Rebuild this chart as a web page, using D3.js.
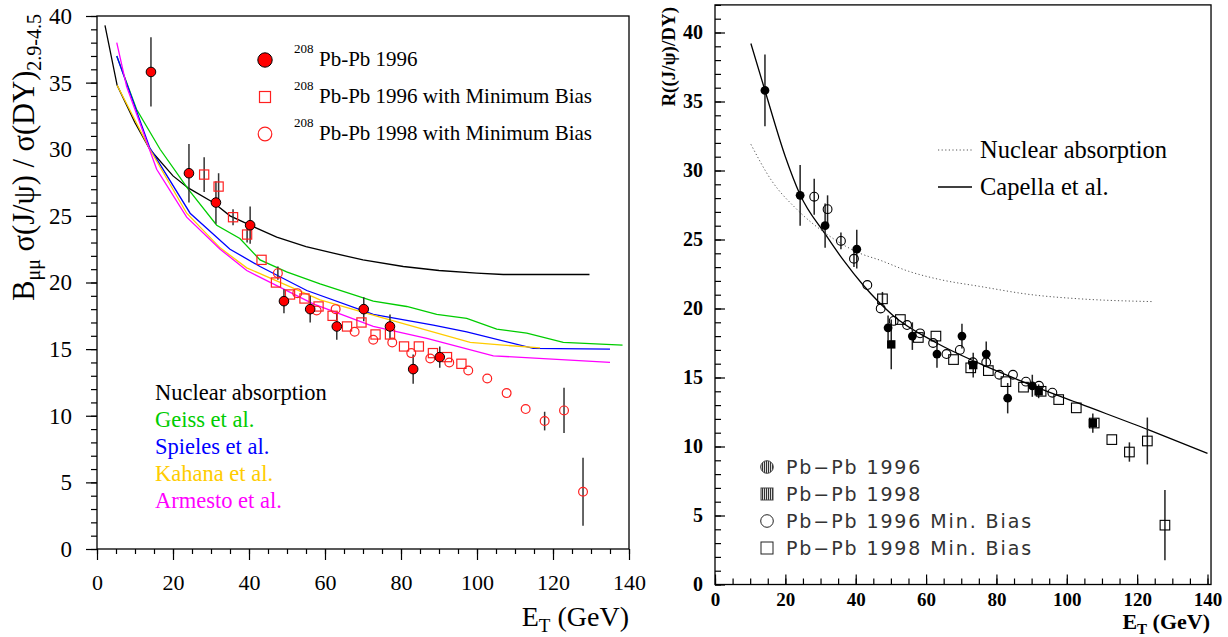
<!DOCTYPE html>
<html><head><meta charset="utf-8">
<script src="https://cdn.jsdelivr.net/npm/d3@7"></script>
<style>body{margin:0;background:#fff}svg{display:block}</style>
</head><body>
<svg id="c" width="1228" height="637"></svg>
<script>
// ---------------- DATA ----------------
// Pb-Pb 1996 (filled circles)
const pb96E   = [14.2, 24.2, 31.3, 40.3, 49.2, 56.1, 63.1, 70.2, 77.1, 83.2, 90.2];
const pb96V   = [35.8, 28.2, 26.0, 24.3, 18.6, 18.0, 16.7, 18.0, 16.7, 13.5, 14.4];
const pb96Err = [2.6, 2.2, 1.6, 1.4, 0.9, 1.0, 1.0, 0.9, 0.9, 1.1, 0.8];
// Pb-Pb 1998 (filled squares, right panel only)
const pb98E   = [50.1, 73.4, 92.0, 107.4];
const pb98V   = [17.4, 15.9, 14.0, 11.7];
const pb98Err = [1.8, 0.9, 0.5, 0.7];
// Pb-Pb 1996 minimum bias
const mb96E   = [28.2, 32.0, 35.8, 39.5, 43.3, 47.1, 50.8, 54.6, 58.3, 62.0, 65.8, 69.6, 73.3, 77.1, 80.8, 84.7, 88.4, 92.1, 95.9];
const mb96V   = [28.1, 27.2, 24.9, 23.6, 21.7, 20.0, 19.1, 18.8, 18.2, 17.5, 16.7, 17.0, 16.1, 16.1, 15.2, 15.2, 14.7, 14.4, 13.9];
const mb96Err = [1.3, 1.0, 0.6, 0.6, 0, 0, 0, 0, 0, 0, 0, 0, 0, 0, 0, 0, 0, 0, 0];
// Pb-Pb 1998 minimum bias
const mb98E   = [47.6, 52.7, 57.8, 62.8, 67.8, 72.7, 77.7, 82.7, 87.7, 92.7, 97.7, 102.7, 107.8, 112.8, 117.8, 122.9, 127.9];
const mb98V   = [20.7, 19.2, 17.9, 18.0, 16.3, 15.7, 15.5, 14.7, 14.3, 14.0, 13.4, 12.8, 11.7, 10.5, 9.6, 10.4, 4.3];
const mb98Err = [0.5, 0, 0, 0, 0, 0, 0, 0, 0, 0, 0, 0, 0, 0, 0.7, 1.7, 2.55];

// Left panel model curves
const absLE = [2.1, 5.3, 10, 13.9, 20, 24, 30.6, 35, 40.3, 47.3, 55, 62.2, 70, 80.6, 90, 99.9, 106.9, 129.6];
const absLV = [39.3, 34.8, 32.0, 30.0, 28.0, 27.1, 26.0, 25.0, 24.3, 23.4, 22.7, 22.2, 21.7, 21.2, 20.9, 20.7, 20.6, 20.6];
const geissE = [5.2, 10.4, 16.6, 24, 31.5, 37.6, 42.9, 49.9, 58.7, 72.7, 81.5, 89.4, 97.3, 105.2, 113.1, 122.7, 138.3];
const geissV = [37.0, 33.0, 30.0, 27.0, 24.3, 23.3, 21.7, 20.8, 19.9, 18.6, 18.2, 17.6, 17.3, 16.5, 16.2, 15.5, 15.3];
const spiE = [5.2, 13.9, 24.5, 35, 42.9, 55.2, 72.7, 88.5, 97.3, 114.8, 135];
const spiV = [37.0, 30.1, 25.2, 22.5, 21.2, 19.4, 17.6, 16.8, 16.3, 15.05, 15.0];
const kahE = [5.3, 13.9, 23.6, 32.4, 39.4, 58.7, 74.5, 98.2, 106.9, 116.6];
const kahV = [34.8, 30.0, 25.2, 22.6, 21.1, 18.7, 17.4, 15.5, 15.3, 15.1];
const armE = [5.2, 7.8, 15.7, 23.6, 32.4, 39.4, 56.9, 72.7, 86.8, 104.3, 135];
const armV = [38.0, 34.7, 28.5, 24.9, 22.5, 20.9, 18.4, 16.7, 15.8, 14.5, 14.0];

// Right panel curves
const absRE = [10.2, 16, 23.2, 31.7, 41.2, 46.9, 55, 63.9, 75.3, 90, 103.7, 124.4];
const absRV = [31.9, 29.3, 27.2, 25.4, 24.0, 23.5, 22.7, 22.1, 21.6, 21.0, 20.7, 20.5];
const capE = [10.2, 14.2, 20, 24.1, 31.3, 36.5, 42.1, 50.6, 63, 75.3, 90.4, 103.7, 123.3, 140];
const capV = [39.2, 35.8, 31.0, 28.3, 25.4, 23.5, 21.7, 19.5, 17.5, 16.0, 14.4, 13.1, 11.2, 9.5];

// Ticks
const xMajor = [0, 20, 40, 60, 80, 100, 120, 140];
const yMajor = [0, 5, 10, 15, 20, 25, 30, 35, 40];
const leftModelNames = ["Nuclear absorption", "Geiss et al.", "Spieles et al.", "Kahana et al.", "Armesto et al."];
const leftDataNames = ["Pb-Pb 1996", "Pb-Pb 1996 with Minimum Bias", "Pb-Pb 1998 with Minimum Bias"];
const rightModelNames = ["Nuclear absorption", "Capella et al."];
const rightDataNames = ["Pb\u2212Pb 1996", "Pb\u2212Pb 1998", "Pb\u2212Pb 1996 Min. Bias", "Pb\u2212Pb 1998 Min. Bias"];

// ---------------- DRAW ----------------
const svg = d3.select("#c");
const SERIF = "'Liberation Serif','Times New Roman',serif";
const SANS = "'DejaVu Sans','Liberation Sans',Arial,sans-serif";
const defs = svg.append("defs");
const pat = defs.append("pattern").attr("id","hatch").attr("patternUnits","userSpaceOnUse")
  .attr("width",2).attr("height",4);
pat.append("rect").attr("width",2).attr("height",4).attr("fill","#ddd");
pat.append("rect").attr("width",1).attr("height",4).attr("fill","#333");

const zip = (a,b) => a.map((v,i)=>[v,b[i]]);
const minor = (lo,hi,step) => d3.range(lo,hi+1e-9,step);

// ===== LEFT PANEL =====
const xL = d3.scaleLinear().domain([0,140]).range([97,629]);
const yL = d3.scaleLinear().domain([0,40]).range([549,16]);
const L = svg.append("g");

function styleAxis(g, size, weight){
  g.select(".domain").remove();
  g.selectAll("line").attr("stroke","#000").attr("stroke-width",1.2);
  g.selectAll("text").attr("font-family",SERIF).attr("font-size",size).attr("font-weight",weight).attr("fill","#000");
}
// minor ticks
L.append("g").attr("transform",`translate(0,${yL(0)})`)
  .call(d3.axisBottom(xL).tickValues(minor(0,140,5)).tickSize(5).tickFormat(""))
  .call(g=>styleAxis(g,22,"normal"));
L.append("g").attr("transform",`translate(${xL(0)},0)`)
  .call(d3.axisLeft(yL).tickValues(minor(0,40,1)).tickSize(6).tickFormat(""))
  .call(g=>styleAxis(g,22,"normal"));
L.append("g").attr("transform",`translate(0,${yL(0)})`)
  .call(d3.axisBottom(xL).tickValues(xMajor).tickSize(11).tickPadding(14).tickFormat(d3.format("d")))
  .call(g=>styleAxis(g,22,"normal"));
L.append("g").attr("transform",`translate(${xL(0)},0)`)
  .call(d3.axisLeft(yL).tickValues(yMajor).tickSize(11).tickPadding(14).tickFormat(d3.format("d")))
  .call(g=>styleAxis(g,23,"normal"));
L.append("rect").attr("x",xL(0)).attr("y",yL(40)).attr("width",xL(140)-xL(0)).attr("height",yL(0)-yL(40))
  .attr("fill","none").attr("stroke","#000").attr("stroke-width",1.3);

// model curves
const lineL = d3.line().x(d=>xL(d[0])).y(d=>yL(d[1]));
const leftModels = [
  [absLE, absLV, "#000000"],
  [geissE, geissV, "#00cc00"],
  [spiE, spiV, "#0000ff"],
  [kahE, kahV, "#ffcc00"],
  [armE, armV, "#ff00ff"]
];
leftModels.forEach(([e,v,c])=>{
  L.append("path").datum(zip(e,v)).attr("d",lineL).attr("fill","none").attr("stroke",c).attr("stroke-width",1.3);
});

function errBars(g, xs, ys, E, V, Er, color){
  g.selectAll(null).data(E.map((e,i)=>({e,v:V[i],er:Er[i]})).filter(d=>d.er>0)).enter().append("line")
    .attr("x1",d=>xs(d.e)).attr("x2",d=>xs(d.e)).attr("y1",d=>ys(d.v-d.er)).attr("y2",d=>ys(d.v+d.er))
    .attr("stroke",color).attr("stroke-width",1.5);
}
errBars(L,xL,yL,pb96E,pb96V,pb96Err,"#333");
errBars(L,xL,yL,mb96E,mb96V,mb96Err,"#333");
errBars(L,xL,yL,mb98E,mb98V,mb98Err,"#333");

// open squares (1996 MB)
L.selectAll(null).data(zip(mb96E,mb96V)).enter().append("rect")
  .attr("x",d=>xL(d[0])-4.6).attr("y",d=>yL(d[1])-4.6).attr("width",9.2).attr("height",9.2)
  .attr("fill","none").attr("stroke","#ff2020").attr("stroke-width",1.2);
// open circles (1998 MB)
L.selectAll(null).data(zip(mb98E,mb98V)).enter().append("circle")
  .attr("cx",d=>xL(d[0])).attr("cy",d=>yL(d[1])).attr("r",4.4)
  .attr("fill","none").attr("stroke","#ff2020").attr("stroke-width",1.2);
// filled circles 1996
L.selectAll(null).data(zip(pb96E,pb96V)).enter().append("circle")
  .attr("cx",d=>xL(d[0])).attr("cy",d=>yL(d[1])).attr("r",4.8)
  .attr("fill","#ff0000").attr("stroke","#000").attr("stroke-width",1);

// legend top
const legY = [60, 97, 134];
L.append("circle").attr("cx",265).attr("cy",legY[0]).attr("r",7.2).attr("fill","#ff0000").attr("stroke","#000").attr("stroke-width",1);
L.append("rect").attr("x",259.5).attr("y",legY[1]-5.5).attr("width",11).attr("height",11).attr("fill","none").attr("stroke","#ff2020").attr("stroke-width",1.2);
L.append("circle").attr("cx",265).attr("cy",legY[2]).attr("r",6.8).attr("fill","none").attr("stroke","#ff2020").attr("stroke-width",1.2);
leftDataNames.forEach((t,i)=>{
  L.append("text").attr("x",294).attr("y",legY[i]-7).attr("font-family",SERIF).attr("font-size",13).text("208");
  L.append("text").attr("x",319).attr("y",legY[i]+6).attr("font-family",SERIF).attr("font-size",21).text(t);
});
// legend bottom
const modelColors = ["#000000","#00cc00","#0000ff","#ffcc00","#ff00ff"];
leftModelNames.forEach((t,i)=>{
  L.append("text").attr("x",155).attr("y",400+i*27).attr("font-family",SERIF).attr("font-size",22.5)
    .attr("fill",modelColors[i]).text(t);
});
// titles
const ytl = L.append("text").attr("transform","translate(34,14) rotate(-90)").attr("text-anchor","end")
  .attr("font-family",SERIF).attr("font-size",30.5).attr("fill","#000");
ytl.append("tspan").text("B");
ytl.append("tspan").attr("font-size",20).attr("dy",6).text("\u03bc\u03bc");
ytl.append("tspan").attr("dy",-6).text(" \u03c3(J/\u03c8) / \u03c3(DY)");
ytl.append("tspan").attr("font-size",20).attr("dy",7).text("2.9-4.5");
const xtl = L.append("text").attr("x",629).attr("y",626).attr("text-anchor","end")
  .attr("font-family",SERIF).attr("font-size",28).attr("fill","#000");
xtl.append("tspan").text("E");
xtl.append("tspan").attr("font-size",19).attr("dy",6).text("T");
xtl.append("tspan").attr("dy",-6).text(" (GeV)");

// ===== RIGHT PANEL =====
const xR = d3.scaleLinear().domain([0,140]).range([715,1207.5]);
const yR = d3.scaleLinear().domain([0,42]).range([584.5,4.9]);
const R = svg.append("g");
R.append("g").attr("transform",`translate(0,${yR(0)})`)
  .call(d3.axisBottom(xR).tickValues(minor(0,140,5)).tickSize(-6).tickFormat(""))
  .call(g=>styleAxis(g,19,"bold"));
R.append("g").attr("transform",`translate(${xR(0)},0)`)
  .call(d3.axisLeft(yR).tickValues(minor(0,42,1)).tickSize(-6).tickFormat(""))
  .call(g=>styleAxis(g,19,"bold"));
const xAxR = R.append("g").attr("transform",`translate(0,${yR(0)})`)
  .call(d3.axisBottom(xR).tickValues(xMajor).tickSize(-10).tickPadding(8).tickFormat(d3.format("d")))
  .call(g=>styleAxis(g,19,"bold"));
xAxR.selectAll(".tick text").attr("y",8);
R.append("g").attr("transform",`translate(${xR(0)},0)`)
  .call(d3.axisLeft(yR).tickValues(yMajor).tickSize(-10).tickPadding(12).tickFormat(d3.format("d")))
  .call(g=>styleAxis(g,20,"bold"));
R.append("rect").attr("x",xR(0)).attr("y",yR(42)).attr("width",xR(141)-xR(0)).attr("height",yR(0)-yR(42))
  .attr("fill","none").attr("stroke","#000").attr("stroke-width",1.3);

const lineR = d3.line().x(d=>xR(d[0])).y(d=>yR(d[1])).curve(d3.curveMonotoneX);
R.append("path").datum(zip(absRE,absRV)).attr("d",lineR).attr("fill","none").attr("stroke","#555")
  .attr("stroke-width",1).attr("stroke-dasharray","1.2,2.4");
R.append("path").datum(zip(capE,capV)).attr("d",lineR).attr("fill","none").attr("stroke","#000").attr("stroke-width",1.3);

errBars(R,xR,yR,pb96E,pb96V,pb96Err,"#222");
errBars(R,xR,yR,pb98E,pb98V,pb98Err,"#222");
errBars(R,xR,yR,mb96E,mb96V,mb96Err,"#222");
errBars(R,xR,yR,mb98E,mb98V,mb98Err,"#222");
R.selectAll(null).data(zip(mb96E,mb96V)).enter().append("circle")
  .attr("cx",d=>xR(d[0])).attr("cy",d=>yR(d[1])).attr("r",4.4)
  .attr("fill","none").attr("stroke","#000").attr("stroke-width",1.1);
R.selectAll(null).data(zip(mb98E,mb98V)).enter().append("rect")
  .attr("x",d=>xR(d[0])-4.8).attr("y",d=>yR(d[1])-4.8).attr("width",9.6).attr("height",9.6)
  .attr("fill","none").attr("stroke","#000").attr("stroke-width",1.1);
R.selectAll(null).data(zip(pb96E,pb96V)).enter().append("circle")
  .attr("cx",d=>xR(d[0])).attr("cy",d=>yR(d[1])).attr("r",4.4).attr("fill","#000");
R.selectAll(null).data(zip(pb98E,pb98V)).enter().append("rect")
  .attr("x",d=>xR(d[0])-4.2).attr("y",d=>yR(d[1])-4.2).attr("width",8.4).attr("height",8.4).attr("fill","#000");

// right top legend
const rlY = [150, 187];
R.append("line").attr("x1",938).attr("x2",972).attr("y1",rlY[0]).attr("y2",rlY[0]).attr("stroke","#555").attr("stroke-width",1).attr("stroke-dasharray","1.2,2.4");
R.append("line").attr("x1",938).attr("x2",972).attr("y1",rlY[1]).attr("y2",rlY[1]).attr("stroke","#000").attr("stroke-width",1.3);
rightModelNames.forEach((t,i)=>{
  R.append("text").attr("x",980).attr("y",rlY[i]+7.5).attr("font-family",SERIF).attr("font-size",24.5).text(t);
});
// right bottom legend
const rbY = [467, 494, 521, 548];
R.append("circle").attr("cx",767).attr("cy",rbY[0]).attr("r",6.3).attr("fill","url(#hatch)").attr("stroke","#444").attr("stroke-width",1);
R.append("rect").attr("x",761).attr("y",rbY[1]-6).attr("width",12).attr("height",12).attr("fill","url(#hatch)").attr("stroke","#444").attr("stroke-width",1);
R.append("circle").attr("cx",767).attr("cy",rbY[2]).attr("r",6.3).attr("fill","none").attr("stroke","#222").attr("stroke-width",1);
R.append("rect").attr("x",761).attr("y",rbY[3]-6).attr("width",12).attr("height",12).attr("fill","none").attr("stroke","#222").attr("stroke-width",1);
rightDataNames.forEach((t,i)=>{
  R.append("text").attr("x",786).attr("y",rbY[i]+7).attr("font-family",SANS).attr("font-size",19)
    .attr("fill","#333").attr("letter-spacing",1.9).text(t);
});
// titles
R.append("text").attr("transform","translate(675,7) rotate(-90)").attr("text-anchor","end")
  .attr("font-family",SERIF).attr("font-size",19).attr("font-weight","bold").text("R((J/\u03c8)/DY)");
const xtr = R.append("text").attr("x",1210).attr("y",629).attr("text-anchor","end")
  .attr("font-family",SERIF).attr("font-size",22).attr("font-weight","bold");
xtr.append("tspan").text("E");
xtr.append("tspan").attr("font-size",15).attr("dy",5).text("T");
xtr.append("tspan").attr("dy",-5).text(" (GeV)");
</script>
</body></html>
